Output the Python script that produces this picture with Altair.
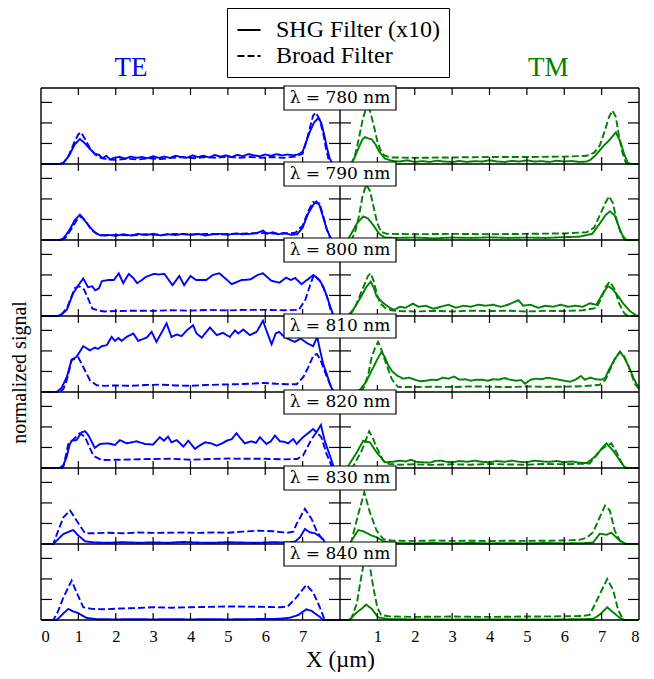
import altair as alt
import pandas as pd

# ---------------- data ----------------
wavelengths = [780, 790, 800, 810, 820, 830, 840]
polarizations = ["TE", "TM"]
filters = ["SHG Filter (x10)", "Broad Filter"]
pol_colors = ["#0000ff", "#008000"]
x_ticks = [1, 2, 3, 4, 5, 6, 7]
x_labels_left = [0, 1, 2, 3, 4, 5, 6, 7]
x_labels_right = [1, 2, 3, 4, 5, 6, 7, 8]
y_ticks = [1, 2, 3]
x_max = 8          # µm spanned by each panel
row_span = 3.7     # signal units spanned by one row

# (x in µm, normalized signal)
te780_shg = [(0,0),(0.5,0),(0.6,0.05),(0.75,0.4),(0.9,0.95),(1.04,1.22),(1.15,1.05),(1.3,0.75),(1.44,0.5),(1.55,0.45),(1.65,0.28),(1.75,0.4),(1.85,0.22),(1.95,0.3),(2.1,0.35),(2.25,0.26),(2.4,0.36),(2.55,0.3),(2.7,0.34),(2.85,0.28),(3.0,0.38),(3.15,0.3),(3.3,0.36),(3.45,0.3),(3.6,0.4),(3.75,0.34),(3.9,0.3),(4.05,0.42),(4.2,0.34),(4.35,0.4),(4.5,0.32),(4.65,0.44),(4.8,0.36),(4.95,0.42),(5.1,0.34),(5.25,0.44),(5.4,0.38),(5.55,0.48),(5.7,0.42),(5.85,0.38),(6.0,0.46),(6.15,0.4),(6.3,0.48),(6.45,0.42),(6.6,0.46),(6.75,0.42),(6.9,0.48),(7.0,0.6),(7.1,1.1),(7.2,1.6),(7.3,2.0),(7.42,2.24),(7.5,2.0),(7.58,1.4),(7.65,0.8),(7.72,0.3),(7.8,0),(8,0)]
te780_broad = [(0,0),(0.5,0),(0.6,0.05),(0.75,0.45),(0.9,1.1),(1.0,1.45),(1.07,1.54),(1.15,1.3),(1.3,0.8),(1.45,0.45),(1.6,0.3),(1.8,0.22),(2.0,0.2),(2.3,0.26),(2.6,0.22),(2.9,0.28),(3.2,0.24),(3.5,0.3),(3.8,0.34),(4.1,0.28),(4.4,0.34),(4.7,0.3),(5.0,0.36),(5.3,0.3),(5.6,0.34),(5.9,0.3),(6.2,0.34),(6.5,0.3),(6.8,0.36),(7.0,0.5),(7.1,1.1),(7.2,1.8),(7.28,2.35),(7.35,2.5),(7.45,2.2),(7.55,1.5),(7.62,0.8),(7.7,0.2),(7.75,0),(8,0)]
tm780_shg = [(0,0),(0.3,0),(0.4,0.35),(0.5,0.8),(0.6,1.2),(0.67,1.31),(0.75,1.25),(0.85,1.2),(0.95,0.95),(1.05,0.6),(1.2,0.27),(1.4,0.15),(1.6,0.12),(1.8,0.18),(2.0,0.1),(2.2,0.14),(2.4,0.1),(2.6,0.16),(2.8,0.12),(3.0,0.1),(3.2,0.15),(3.4,0.1),(3.6,0.14),(3.8,0.12),(4.0,0.18),(4.2,0.12),(4.4,0.1),(4.6,0.15),(4.8,0.12),(5.0,0.18),(5.2,0.12),(5.4,0.14),(5.6,0.1),(5.8,0.16),(6.0,0.12),(6.2,0.15),(6.4,0.1),(6.6,0.12),(6.7,0.2),(6.85,0.45),(7.04,0.86),(7.2,1.15),(7.38,1.54),(7.5,1.1),(7.6,0.5),(7.7,0.05),(7.8,0),(8,0)]
tm780_broad = [(0,0),(0.3,0),(0.4,0.4),(0.5,1.2),(0.6,2.1),(0.7,2.75),(0.8,2.6),(0.9,1.9),(1.0,1.1),(1.1,0.6),(1.2,0.4),(1.35,0.32),(2,0.3),(3,0.32),(4,0.34),(5,0.34),(6,0.36),(6.6,0.4),(6.8,0.55),(6.95,0.9),(7.1,1.7),(7.2,2.3),(7.29,2.6),(7.38,2.3),(7.45,1.5),(7.55,0.6),(7.65,0.05),(7.75,0),(8,0)]

te790_shg = [(0,0),(0.5,0),(0.6,0.08),(0.75,0.45),(0.9,0.95),(1.04,1.23),(1.15,1.0),(1.3,0.65),(1.45,0.35),(1.6,0.22),(1.8,0.25),(2.0,0.2),(2.2,0.28),(2.4,0.22),(2.6,0.3),(2.8,0.24),(3.0,0.3),(3.2,0.22),(3.4,0.28),(3.6,0.24),(3.8,0.3),(4.0,0.25),(4.2,0.3),(4.4,0.22),(4.6,0.28),(4.8,0.3),(5.0,0.25),(5.2,0.32),(5.4,0.28),(5.6,0.3),(5.8,0.35),(5.94,0.46),(6.05,0.3),(6.2,0.38),(6.35,0.28),(6.5,0.35),(6.7,0.25),(6.85,0.28),(7.0,0.6),(7.15,1.3),(7.3,1.75),(7.37,1.88),(7.45,1.7),(7.55,1.1),(7.65,0.5),(7.75,0.1),(7.8,0),(8,0)]
te790_broad = [(0,0),(0.55,0),(0.65,0.1),(0.8,0.5),(0.95,0.95),(1.07,1.15),(1.2,0.9),(1.35,0.5),(1.5,0.3),(1.7,0.22),(2,0.25),(2.4,0.22),(2.8,0.28),(3.2,0.25),(3.6,0.3),(4,0.26),(4.4,0.3),(4.8,0.28),(5.2,0.3),(5.6,0.32),(6,0.34),(6.4,0.3),(6.8,0.35),(7.0,0.7),(7.15,1.4),(7.28,1.85),(7.35,1.8),(7.45,1.78),(7.55,1.2),(7.65,0.5),(7.75,0.05),(7.8,0),(8,0)]
tm790_shg = [(0,0),(0.2,0),(0.3,0.3),(0.45,0.8),(0.62,1.15),(0.75,1.05),(0.9,0.7),(1.05,0.3),(1.2,0.12),(1.5,0.1),(2,0.12),(2.5,0.08),(3,0.12),(3.5,0.1),(4,0.13),(4.5,0.1),(5,0.12),(5.5,0.1),(6,0.14),(6.4,0.16),(6.75,0.3),(6.95,0.8),(7.1,1.2),(7.22,1.4),(7.35,1.2),(7.45,0.7),(7.55,0.25),(7.65,0),(8,0)]
tm790_broad = [(0,0),(0.3,0),(0.4,0.35),(0.5,1.1),(0.6,2.1),(0.7,2.7),(0.8,2.4),(0.9,1.6),(1.0,0.8),(1.1,0.4),(1.25,0.3),(2,0.28),(3,0.3),(4,0.28),(5,0.3),(6,0.32),(6.6,0.38),(6.8,0.6),(6.95,1.2),(7.1,1.8),(7.2,2.13),(7.3,1.8),(7.4,1.0),(7.5,0.4),(7.6,0.05),(7.7,0),(8,0)]

te800_shg = [(0,0),(0.45,0),(0.55,0.08),(0.69,0.3),(0.86,1.1),(1.0,1.5),(1.13,1.83),(1.26,1.4),(1.37,1.45),(1.45,1.25),(1.55,1.35),(1.63,1.7),(1.8,1.75),(1.95,1.75),(2.08,2.08),(2.2,1.6),(2.35,2.05),(2.47,1.85),(2.57,1.6),(2.7,1.75),(2.8,1.9),(3.02,2.05),(3.15,2.02),(3.3,2.05),(3.52,1.5),(3.7,1.95),(3.83,1.5),(4.0,1.95),(4.15,1.75),(4.42,1.75),(4.6,2.0),(4.77,2.08),(4.95,1.8),(5.1,1.55),(5.37,1.75),(5.6,1.78),(5.8,2.0),(5.94,2.08),(6.16,1.72),(6.38,1.62),(6.56,1.87),(6.68,1.75),(6.8,1.85),(6.97,1.55),(7.15,1.8),(7.29,2.0),(7.47,1.7),(7.56,1.4),(7.65,0.95),(7.8,0.13),(7.85,0),(8,0)]
te800_broad = [(0,0),(0.45,0),(0.55,0.08),(0.7,0.4),(0.9,1.35),(1.02,1.45),(1.15,1.3),(1.25,0.9),(1.37,0.37),(1.5,0.28),(1.7,0.22),(2.0,0.24),(2.5,0.26),(3.0,0.25),(3.5,0.28),(4.0,0.26),(4.5,0.3),(5.0,0.27),(5.5,0.3),(6.0,0.3),(6.5,0.28),(6.9,0.3),(7.07,0.78),(7.2,1.5),(7.3,2.0),(7.45,1.75),(7.55,1.4),(7.65,0.95),(7.75,0.3),(7.82,0),(8,0)]
tm800_shg = [(0,0),(0.2,0),(0.35,0.3),(0.55,0.9),(0.7,1.4),(0.82,1.67),(0.9,1.4),(0.98,0.95),(1.16,0.63),(1.34,0.39),(1.45,0.3),(1.6,0.45),(1.75,0.4),(1.95,0.6),(2.1,0.45),(2.3,0.5),(2.5,0.35),(2.7,0.45),(2.9,0.55),(3.1,0.4),(3.3,0.5),(3.5,0.45),(3.7,0.55),(3.9,0.5),(4.1,0.55),(4.3,0.45),(4.5,0.55),(4.77,0.77),(4.9,0.5),(5.1,0.55),(5.3,0.4),(5.5,0.5),(5.7,0.45),(5.9,0.55),(6.1,0.45),(6.3,0.5),(6.5,0.45),(6.68,0.62),(6.86,0.55),(7.0,1.0),(7.17,1.46),(7.3,1.3),(7.45,0.95),(7.58,0.6),(7.75,0.25),(7.93,0.02),(8,0)]
tm800_broad = [(0,0),(0.25,0),(0.4,0.4),(0.6,1.3),(0.75,1.95),(0.82,2.08),(0.9,1.7),(1.0,1.0),(1.07,0.63),(1.2,0.4),(1.38,0.28),(1.6,0.24),(2,0.22),(2.5,0.25),(3,0.22),(3.5,0.26),(4,0.24),(4.5,0.26),(5,0.22),(5.5,0.25),(6,0.24),(6.5,0.28),(6.86,0.39),(7.0,0.9),(7.1,1.4),(7.22,1.67),(7.35,1.3),(7.47,0.6),(7.6,0.15),(7.7,0),(8,0)]

te810_shg = [(0,0),(0.42,0),(0.55,0.2),(0.69,0.73),(0.82,1.58),(0.95,1.71),(1.13,2.23),(1.31,2.03),(1.44,2.16),(1.53,2.1),(1.62,2.23),(1.76,2.28),(1.89,2.68),(1.98,2.49),(2.07,2.63),(2.16,2.49),(2.29,2.68),(2.47,2.85),(2.6,2.49),(2.83,2.65),(2.96,2.93),(3.09,2.44),(3.36,3.34),(3.49,2.68),(3.63,2.8),(3.76,2.72),(3.9,3.0),(4.07,3.25),(4.16,2.85),(4.3,2.65),(4.52,3.14),(4.7,2.77),(4.87,2.88),(5.05,2.68),(5.19,3.0),(5.28,2.85),(5.41,3.04),(5.59,2.77),(5.77,2.93),(5.94,3.47),(6.03,3.0),(6.17,2.32),(6.28,2.85),(6.37,2.93),(6.5,2.7),(6.65,2.55),(6.79,2.44),(6.95,2.6),(7.1,2.4),(7.28,2.23),(7.39,2.68),(7.47,2.0),(7.55,1.37),(7.65,0.85),(7.73,0.39),(7.81,0.05),(7.85,0),(8,0)]
te810_broad = [(0,0),(0.5,0),(0.6,0.15),(0.69,0.57),(0.82,1.55),(1.0,1.68),(1.13,1.22),(1.31,0.57),(1.49,0.33),(1.7,0.3),(2.0,0.32),(2.4,0.3),(2.8,0.34),(3.2,0.36),(3.6,0.32),(4.0,0.3),(4.4,0.34),(4.8,0.36),(5.2,0.38),(5.6,0.4),(5.94,0.44),(6.3,0.4),(6.6,0.38),(6.84,0.38),(7.02,0.73),(7.15,1.2),(7.29,1.79),(7.38,1.85),(7.47,1.6),(7.56,1.15),(7.68,0.6),(7.79,0.15),(7.85,0),(8,0)]
tm810_shg = [(0,0),(0.4,0),(0.53,0.1),(0.7,0.5),(0.85,1.05),(1.0,1.6),(1.11,1.95),(1.2,1.7),(1.29,1.3),(1.4,1.0),(1.52,0.81),(1.69,0.65),(1.85,0.7),(2.0,0.6),(2.15,0.52),(2.3,0.55),(2.45,0.6),(2.6,0.58),(2.75,0.7),(2.9,0.65),(3.05,0.75),(3.2,0.6),(3.35,0.62),(3.5,0.55),(3.65,0.6),(3.8,0.6),(3.95,0.55),(4.1,0.62),(4.25,0.6),(4.4,0.68),(4.55,0.6),(4.7,0.55),(4.85,0.58),(4.95,0.4),(5.1,0.6),(5.25,0.65),(5.4,0.62),(5.55,0.7),(5.7,0.65),(5.85,0.6),(6.0,0.55),(6.15,0.5),(6.3,0.6),(6.45,0.78),(6.55,0.6),(6.7,0.7),(6.85,0.62),(7.0,0.6),(7.1,0.7),(7.2,1.1),(7.35,1.6),(7.49,1.95),(7.6,1.7),(7.75,1.14),(7.85,0.7),(7.93,0.4),(8.0,0.25)]
tm810_broad = [(0,0),(0.45,0),(0.62,0.15),(0.75,0.8),(0.85,1.71),(0.95,2.2),(1.02,2.44),(1.1,2.1),(1.2,1.55),(1.3,1.05),(1.38,0.65),(1.47,0.4),(1.56,0.24),(2,0.24),(2.5,0.26),(3,0.24),(3.5,0.27),(4,0.26),(4.5,0.24),(5,0.27),(5.5,0.25),(6,0.26),(6.5,0.28),(6.95,0.35),(7.1,0.6),(7.22,1.06),(7.35,1.6),(7.49,1.97),(7.6,1.75),(7.71,1.3),(7.8,0.85),(7.89,0.4),(8.0,0.15)]

te820_shg = [(0,0),(0.5,0),(0.6,0.15),(0.69,0.55),(0.76,1.1),(0.82,1.33),(0.95,1.36),(1.09,1.74),(1.18,1.79),(1.27,1.59),(1.44,0.98),(1.58,1.17),(1.8,1.2),(1.98,1.12),(2.11,1.36),(2.29,1.2),(2.56,1.3),(2.78,1.17),(3.0,1.14),(3.18,1.5),(3.29,1.33),(3.4,1.53),(3.49,1.25),(3.63,1.36),(3.81,1.04),(3.94,1.33),(4.12,0.93),(4.25,1.1),(4.39,1.25),(4.55,1.2),(4.7,1.09),(4.85,1.2),(4.97,1.33),(5.1,1.4),(5.23,1.69),(5.45,1.2),(5.63,1.3),(5.75,1.22),(5.86,1.5),(6.03,1.17),(6.15,1.3),(6.26,1.58),(6.39,1.3),(6.5,1.28),(6.61,1.2),(6.75,1.41),(6.84,1.17),(7.01,1.5),(7.15,1.7),(7.28,1.9),(7.37,1.74),(7.49,2.1),(7.59,1.33),(7.73,0.6),(7.83,0.06),(7.9,0),(8,0)]
te820_broad = [(0,0),(0.55,0),(0.6,0.06),(0.73,1.17),(0.9,1.45),(1.04,1.69),(1.18,1.5),(1.4,0.6),(1.62,0.39),(2,0.4),(2.5,0.42),(3,0.44),(3.5,0.45),(4,0.4),(4.5,0.44),(5,0.46),(5.5,0.45),(6,0.45),(6.5,0.42),(6.85,0.44),(7.01,0.6),(7.24,1.41),(7.37,1.74),(7.5,1.5),(7.64,0.69),(7.77,0.12),(7.82,0),(8,0)]
tm820_shg = [(0,0),(0.15,0),(0.22,0.1),(0.45,0.76),(0.62,1.33),(0.7,1.28),(0.8,1.25),(0.98,0.76),(1.2,0.28),(1.4,0.3),(1.6,0.36),(1.75,0.32),(1.9,0.4),(2.05,0.3),(2.2,0.28),(2.4,0.26),(2.55,0.34),(2.7,0.36),(2.85,0.3),(3.0,0.28),(3.2,0.34),(3.4,0.3),(3.6,0.36),(3.8,0.3),(4.0,0.28),(4.2,0.34),(4.4,0.3),(4.6,0.36),(4.8,0.3),(5.0,0.28),(5.2,0.36),(5.4,0.32),(5.6,0.3),(5.8,0.34),(6.0,0.28),(6.2,0.32),(6.4,0.26),(6.6,0.24),(6.86,0.6),(7.0,0.95),(7.13,1.2),(7.31,0.84),(7.49,0.36),(7.62,0.03),(7.7,0),(8,0)]
tm820_broad = [(0,0),(0.3,0),(0.36,0.1),(0.58,0.84),(0.7,1.4),(0.78,1.79),(0.88,1.45),(0.98,1.0),(1.16,0.35),(1.3,0.2),(1.6,0.16),(2,0.18),(2.5,0.15),(3,0.18),(3.5,0.16),(4,0.2),(4.5,0.17),(5,0.16),(5.5,0.2),(6,0.18),(6.4,0.2),(6.68,0.22),(6.95,0.84),(7.1,1.05),(7.26,1.2),(7.4,0.76),(7.58,0.1),(7.65,0),(8,0)]

te830_shg = [(0,0),(0.33,0),(0.45,0.22),(0.6,0.49),(0.75,0.6),(0.86,0.68),(1.0,0.41),(1.18,0.13),(1.4,0.08),(1.8,0.06),(2.2,0.09),(2.6,0.06),(3.0,0.08),(3.4,0.06),(3.8,0.1),(4.2,0.07),(4.6,0.06),(5.0,0.09),(5.4,0.07),(5.8,0.06),(6.2,0.09),(6.6,0.07),(6.8,0.12),(6.93,0.33),(7.06,0.73),(7.19,0.57),(7.33,0.52),(7.45,0.38),(7.55,0.24),(7.59,0.07),(7.65,0),(8,0)]
te830_broad = [(0,0),(0.33,0),(0.45,0.6),(0.6,1.3),(0.78,1.63),(0.95,1.14),(1.18,0.52),(1.4,0.52),(1.8,0.55),(2.2,0.52),(2.6,0.56),(3.0,0.54),(3.4,0.55),(3.8,0.56),(4.2,0.54),(4.6,0.56),(5.0,0.55),(5.4,0.6),(5.8,0.65),(6.2,0.62),(6.6,0.55),(6.75,0.6),(6.84,0.98),(7.06,1.71),(7.24,1.22),(7.37,0.65),(7.55,0.16),(7.6,0),(8,0)]
tm830_shg = [(0,0),(0.2,0),(0.27,0.05),(0.49,0.68),(0.62,0.62),(0.85,0.41),(0.98,0.33),(1.16,0.13),(1.4,0.05),(2,0.03),(2.5,0.05),(3,0.03),(3.5,0.05),(4,0.03),(4.5,0.04),(5,0.03),(5.5,0.05),(6,0.03),(6.5,0.04),(6.77,0.07),(6.95,0.5),(7.13,0.45),(7.26,0.55),(7.49,0.16),(7.66,0),(8,0)]
tm830_broad = [(0,0),(0.25,0),(0.31,0.16),(0.49,1.46),(0.65,2.52),(0.8,1.54),(0.98,0.65),(1.16,0.24),(1.4,0.16),(2,0.15),(2.5,0.17),(3,0.15),(3.5,0.16),(4,0.14),(4.5,0.16),(5,0.15),(5.5,0.16),(6,0.17),(6.4,0.2),(6.6,0.3),(6.77,0.57),(7.09,1.87),(7.22,1.63),(7.35,0.65),(7.49,0.16),(7.6,0),(8,0)]

te840_shg = [(0,0),(0.42,0),(0.6,0.32),(0.73,0.54),(0.86,0.42),(1.0,0.33),(1.22,0.1),(1.5,0.04),(2,0.03),(2.5,0.04),(3,0.03),(3.5,0.04),(4,0.03),(4.5,0.04),(5,0.03),(5.5,0.04),(6,0.05),(6.4,0.06),(6.66,0.11),(6.88,0.24),(7.1,0.52),(7.24,0.44),(7.46,0.15),(7.55,0),(8,0)]
te840_broad = [(0,0),(0.33,0),(0.45,0.4),(0.6,1.1),(0.82,1.92),(0.95,1.35),(1.13,0.62),(1.36,0.54),(1.7,0.52),(2.1,0.56),(2.5,0.58),(3.0,0.62),(3.5,0.6),(4.0,0.62),(4.5,0.64),(5.0,0.66),(5.5,0.65),(6.0,0.64),(6.4,0.62),(6.6,0.66),(6.84,1.11),(7.1,1.71),(7.28,1.35),(7.46,0.62),(7.59,0),(8,0)]
tm840_shg = [(0,0),(0.2,0),(0.27,0.03),(0.45,0.37),(0.58,0.55),(0.7,0.75),(0.85,0.54),(1.02,0.13),(1.3,0.04),(2,0.03),(3,0.02),(4,0.03),(5,0.02),(6,0.03),(6.77,0.05),(6.95,0.26),(7.15,0.62),(7.31,0.37),(7.49,0.1),(7.62,0),(8,0)]
tm840_broad = [(0,0),(0.25,0),(0.31,0.1),(0.45,0.8),(0.55,1.9),(0.65,2.9),(0.72,3.1),(0.8,2.6),(0.9,1.5),(1.0,0.6),(1.1,0.25),(1.3,0.18),(2,0.15),(3,0.17),(4,0.15),(5,0.17),(6,0.18),(6.5,0.2),(6.68,0.25),(6.95,1.25),(7.15,2.0),(7.31,1.45),(7.44,0.5),(7.58,0),(8,0)]

curves = {
    (780, "TE"): (te780_shg, te780_broad), (780, "TM"): (tm780_shg, tm780_broad),
    (790, "TE"): (te790_shg, te790_broad), (790, "TM"): (tm790_shg, tm790_broad),
    (800, "TE"): (te800_shg, te800_broad), (800, "TM"): (tm800_shg, tm800_broad),
    (810, "TE"): (te810_shg, te810_broad), (810, "TM"): (tm810_shg, tm810_broad),
    (820, "TE"): (te820_shg, te820_broad), (820, "TM"): (tm820_shg, tm820_broad),
    (830, "TE"): (te830_shg, te830_broad), (830, "TM"): (tm830_shg, tm830_broad),
    (840, "TE"): (te840_shg, te840_broad), (840, "TM"): (tm840_shg, tm840_broad),
}

# ---------------- tables ----------------
n_rows = len(wavelengths)
records = []
for r, wl in enumerate(wavelengths):
    for c, pol in enumerate(polarizations):
        for filt, pts in zip(filters, curves[(wl, pol)]):
            for x, v in pts:
                records.append(dict(x=x, v=v, row=r, col=c, pol=pol, filt=filt,
                                    sid=f"{wl}-{pol}-{filt}"))
df = pd.DataFrame(records)

FONT = "Liberation Serif"
xs = alt.Scale(domain=[0, 2 * x_max], nice=False, zero=False)
ys = alt.Scale(domain=[0, n_rows * row_span], nice=False, zero=False)

axis_values = x_labels_left + [x_max + t for t in x_labels_right]
x_axis = alt.Axis(values=axis_values,
                  labelExpr=f"datum.value > {x_max} ? format(datum.value - {x_max}, 'd') : datum.label",
                  ticks=False, domain=False, grid=False,
                  labelFont=FONT, labelFontSize=16.5, labelColor="black", labelPadding=8,
                  title="X (µm)", titleFont=FONT, titleFontSize=23, titleFontWeight="normal",
                  titleColor="black", titlePadding=4)
y_axis = alt.Axis(title="normalized signal", labels=False, ticks=False, domain=False, grid=False,
                  titleFont=FONT, titleFontSize=20, titleFontWeight="normal", titleColor="black",
                  titleAngle=270, titleX=-22, titleY=284, titleAlign="center", titleBaseline="middle")

def X(field="X:Q"):
    return alt.X(field, scale=xs, axis=x_axis)

def Y(field="Y:Q"):
    return alt.Y(field, scale=ys, axis=y_axis)

lines = alt.Chart(df).transform_calculate(
    X=f"datum.x + {x_max} * datum.col",
    Y=f"datum.v + {row_span} * ({n_rows - 1} - datum.row)",
).mark_line(strokeWidth=1.9).encode(
    x=X(), y=Y(),
    color=alt.Color("pol:N", scale=alt.Scale(domain=polarizations, range=pol_colors), legend=None),
    strokeDash=alt.StrokeDash(
        "filt:N", scale=alt.Scale(domain=filters, range=[[1, 0], [7, 3]]),
        legend=alt.Legend(title=None, orient="none", legendX=186, legendY=-80,
                          symbolType="stroke", symbolStrokeColor="black", symbolStrokeWidth=2.2,
                          symbolSize=530, labelFont=FONT, labelFontSize=24, labelColor="black",
                          labelLimit=400, labelOffset=14, strokeColor="black", fillColor="white",
                          padding=9, rowPadding=1, cornerRadius=0)),
    detail="sid:N",
)

# frame lines
h_df = pd.DataFrame({"Y": [k * row_span for k in range(n_rows + 1)]})
v_df = pd.DataFrame({"X": [0, x_max, 2 * x_max]})
hrules = alt.Chart(h_df).mark_rule(color="black", strokeWidth=1.3).encode(y=Y())
vrules = alt.Chart(v_df).mark_rule(color="black", strokeWidth=1.4).encode(x=X())

# inward ticks
def xtick_df(ks):
    return pd.DataFrame([dict(X=t + x_max * c, Y=k * row_span)
                         for c in range(2) for t in x_ticks for k in ks])

def ytick_df(xpos):
    return pd.DataFrame([dict(X=xpos, Y=r * row_span + t)
                         for r in range(n_rows) for t in y_ticks])

XT, YT = 7, 11
def xtick_layer(ks, o1, o2):
    return alt.Chart(xtick_df(ks)).mark_rule(color="black", strokeWidth=1.2, yOffset=o1, y2Offset=o2).encode(
        x=X(), y=Y(), y2="Y:Q")

def ytick_layer(xpos, o1, o2):
    return alt.Chart(ytick_df(xpos)).mark_rule(color="black", strokeWidth=1.2, xOffset=o1, x2Offset=o2).encode(
        x=X(), x2="X:Q", y=Y())

ticks = [
    xtick_layer(list(range(1, n_rows)), -XT, XT),
    xtick_layer([n_rows], 0, XT),
    xtick_layer([0], -XT, 0),
    ytick_layer(0, 0, YT),
    ytick_layer(x_max, -YT, YT),
    ytick_layer(2 * x_max, -YT, 0),
]

# wavelength label boxes
lab_df = pd.DataFrame({"row": list(range(n_rows)), "wl": wavelengths})
lab_base = alt.Chart(lab_df).transform_calculate(
    X=f"{x_max}", Y=f"{row_span} * ({n_rows} - datum.row)",
    label="'λ = ' + datum.wl + ' nm'")
boxes = lab_base.mark_point(
    shape="M-1,-0.2143L1,-0.2143L1,0.2143L-1,0.2143Z", size=112 * 112, filled=True,
    fill="white", stroke="black", strokeWidth=1.2, opacity=1, yOffset=10).encode(x=X(), y=Y())
labels = lab_base.mark_text(font="DejaVu Serif", fontSize=17, color="black", align="center",
                            baseline="middle", yOffset=10).encode(x=X(), y=Y(), text="label:N")

# column titles (TE / TM)
title_df = pd.DataFrame({"pol": polarizations, "X": [2.41, 13.57], "Y": [n_rows * row_span] * 2})
titles = alt.Chart(title_df).mark_text(
    font=FONT, fontSize=27, align="center", baseline="middle", yOffset=-20).encode(
    x=X(), y=Y(), text="pol:N",
    color=alt.Color("pol:N", scale=alt.Scale(domain=polarizations, range=pol_colors), legend=None))

chart = alt.layer(lines, hrules, vrules, *ticks, boxes, labels, titles).properties(
    width=598, height=532,
    autosize=alt.AutoSizeParams(type="none"),
    padding={"left": 41, "top": 88, "right": 15, "bottom": 59},
).configure_view(stroke=None)

chart.save("out.html", embed_options={"renderer": "svg", "actions": False})
